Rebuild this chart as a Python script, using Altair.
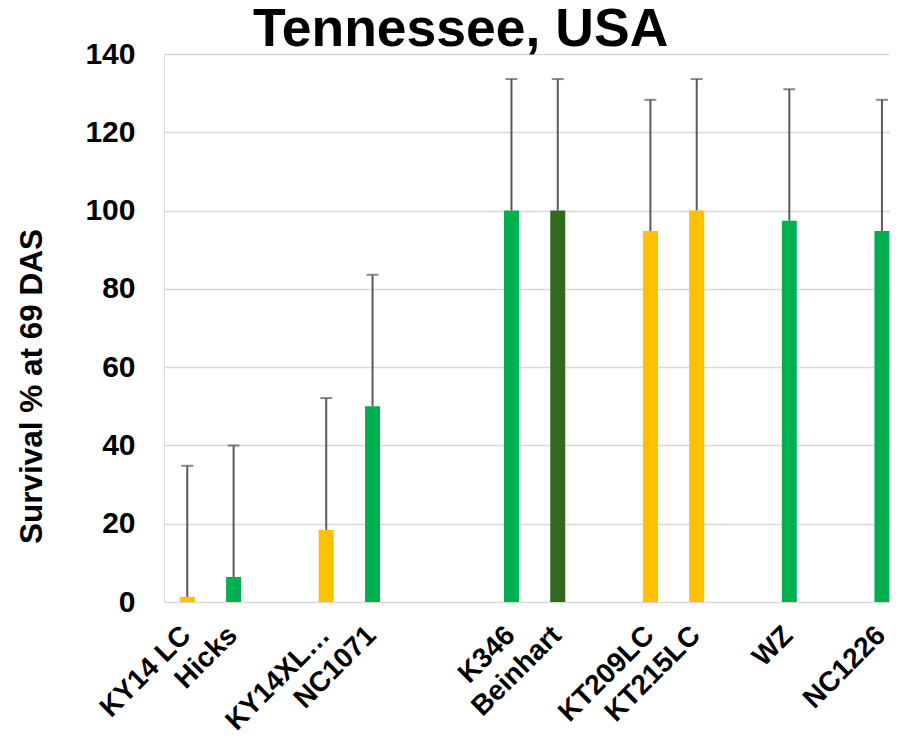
import altair as alt
import pandas as pd

# Category slots (blank strings are empty gaps on the axis)
categories = ["KY14 LC", "Hicks", "", "KY14XL…", "NC1071", "", "", "K346",
              "Beinhart", "", "KT209LC", "KT215LC", "", "WZ", "", "NC1226"]
varieties = ["KY14 LC", "Hicks", "KY14XL…", "NC1071", "K346", "Beinhart",
             "KT209LC", "KT215LC", "WZ", "NC1226"]
survival = [1.3, 6.4, 18.4, 50.0, 100.0, 100.0, 94.8, 100.0, 97.4, 94.8]
upper = [34.8, 40.0, 52.1, 83.6, 133.6, 133.6, 128.3, 133.6, 131.0, 128.3]
group = ["Orange", "Green", "Orange", "Green", "Green", "DarkGreen",
         "Orange", "Orange", "Green", "Green"]
y_ticks = [0, 20, 40, 60, 80, 100, 120, 140]

group_names = ["Orange", "Green", "DarkGreen"]
group_colors = ["#FFC000", "#00B050", "#34681E"]

df = pd.DataFrame({
    "variety": varieties,
    "slot": [categories.index(v) for v in varieties],
    "survival": survival,
    "upper": upper,
    "group": group,
})

FONT = "Liberation Sans"
label_array = "[" + ",".join("'" + c + "'" for c in categories) + "]"

x_enc = alt.X(
    "slot:Q",
    scale=alt.Scale(domain=[-0.503, 15.174], nice=False, zero=False, padding=0),
    axis=alt.Axis(
        values=[categories.index(v) for v in varieties],
        labelExpr=label_array + "[datum.value]",
        labelAngle=-45,
        labelFont=FONT, labelFontSize=28, labelFontWeight="bold",
        labelColor="black", labelPadding=19, labelOffset=-11,
        ticks=False, domain=False, grid=False, title=None,
        labelOverlap=False, labelBound=False, labelFlush=False,
    ),
)

y_enc = alt.Y(
    "survival:Q",
    scale=alt.Scale(domain=[0, 140], nice=False, padding=0),
    axis=alt.Axis(
        values=y_ticks,
        title="Survival % at 69 DAS",
        titleFont=FONT, titleFontSize=31.5, titleFontWeight="bold",
        titleColor="black", titleX=-123, titleY=332,
        titleBaseline="alphabetic", titleAngle=-90, titleAlign="center",
        labelFont=FONT, labelFontSize=30, labelFontWeight="bold",
        labelColor="black", labelPadding=29,
        ticks=False, domain=False,
        grid=True, gridColor="#D9D9D9", gridWidth=1.5,
    ),
)

base = alt.Chart(df)

err = base.mark_rule(color="#595959", strokeWidth=2).encode(
    x=x_enc, y=y_enc, y2="upper:Q"
)

bars = base.mark_bar(size=15).encode(
    x=x_enc, y=y_enc,
    color=alt.Color("group:N", scale=alt.Scale(domain=group_names, range=group_colors),
                    legend=None),
)

caps = base.mark_tick(color="#595959", orient="horizontal", size=12, thickness=2).encode(
    x=x_enc, y=alt.Y("upper:Q"),
)

title_df = pd.DataFrame({"t": ["Tennessee, USA"]})
title = alt.Chart(title_df).mark_text(
    font=FONT, fontSize=53.5, fontWeight="bold", color="black",
    align="left", baseline="alphabetic",
).encode(text="t:N", x=alt.value(89), y=alt.value(-8))

chart = alt.layer(err, bars, caps, title).properties(
    width=726, height=548,
    autosize=alt.AutoSizeParams(type="none"),
    padding={"left": 156, "top": 46, "right": 0, "bottom": 128},
).configure_view(stroke=None).configure(background="white")

chart.save("out.html", embed_options={"renderer": "svg", "actions": False})
